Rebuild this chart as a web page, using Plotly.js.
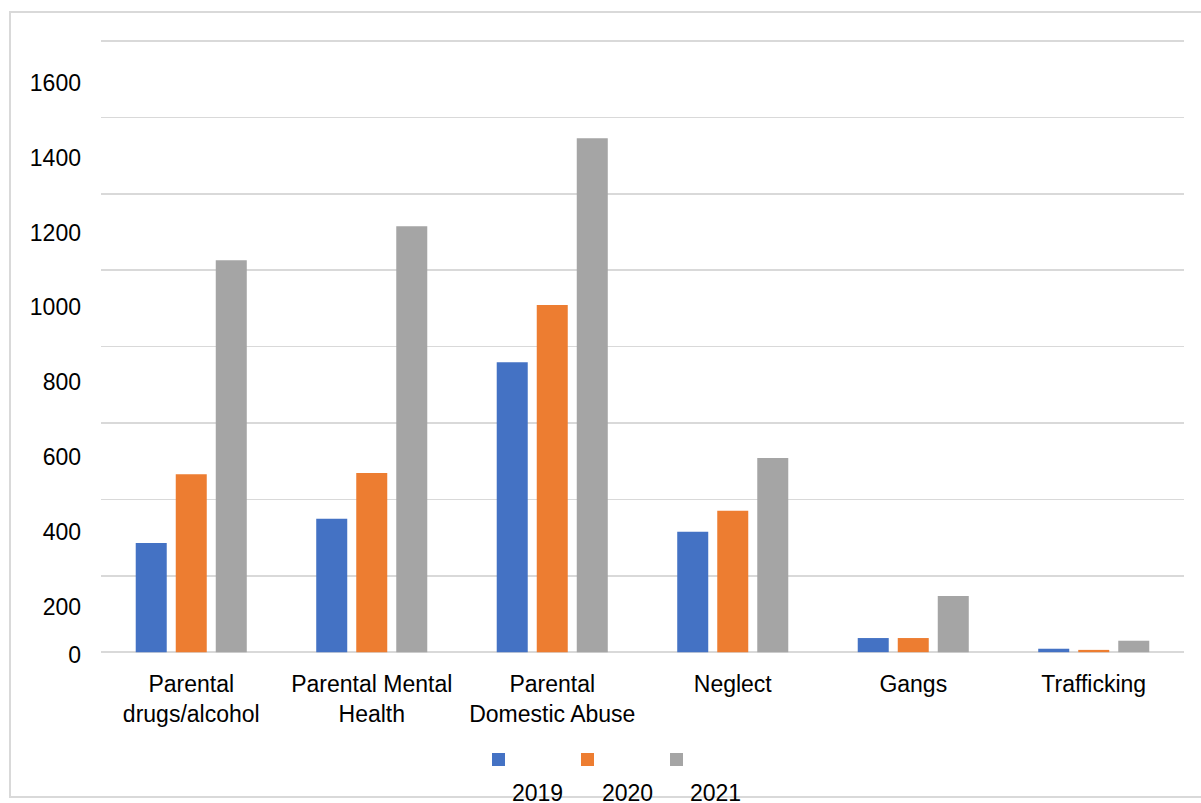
<!DOCTYPE html>
<html>
<head>
<meta charset="utf-8">
<script src="https://cdn.plot.ly/plotly-3.0.1.min.js"></script>
<style>
  html, body { margin: 0; padding: 0; background: #ffffff; overflow: hidden; }
  #frame { position: absolute; left: 9px; top: 11px; width: 1210px; height: 787px;
           box-sizing: border-box; border: 2px solid #d9d9d9; z-index: 0; }
  #chart { position: absolute; left: 0; top: 0; width: 1201px; height: 803px; z-index: 1; }
</style>
</head>
<body>
<div id="frame"></div>
<div id="chart"></div>
<script>
// ---- data ----
const categories = ["Parental<br>drugs/alcohol", "Parental Mental<br>Health", "Parental<br>Domestic Abuse", "Neglect", "Gangs", "Trafficking"];
const years = ["2019", "2020", "2021"];
const values2019 = [286, 349, 759, 315, 37, 9];
const values2020 = [466, 469, 909, 370, 37, 6];
const values2021 = [1026, 1115, 1345, 508, 147, 30];
const yTickLabels = ["0", "200", "400", "600", "800", "1000", "1200", "1400", "1600"];

// ---- styling / geometry ----
const colors = ["#4472C4", "#ED7D31", "#A5A5A5"];
const W = 1201, H = 803;
const M = { l: 101, r: 17, t: 39, b: 147 };
const yRange = [-10, 1605];
const plotW = W - M.l - M.r;
const plotH = H - M.t - M.b;
const plotBottom = H - M.b;
const k = plotH / (yRange[1] - yRange[0]);
// pixel rows where the (offset) tick labels sit in the reference
const yLabelRows = [655, 606.7, 531.7, 456.7, 382.1, 307.4, 232.7, 158, 83.3];
const yLabelVals = yLabelRows.map(p => yRange[0] + (plotBottom - p) / k);
const px2x = p => (p - M.l) / plotW;
const px2y = p => (plotBottom - p) / plotH;

const font = "Liberation Sans, Arial, sans-serif";
const series = [values2019, values2020, values2021];
const traces = series.map((vals, i) => ({
  type: "bar",
  x: categories,
  y: vals,
  name: years[i],
  marker: { color: colors[i] },
  showlegend: false,
  hoverinfo: "skip"
}));
// an overlaying axis that only carries the tick labels
traces.push({ type: "scatter", x: [categories[0]], y: [null], yaxis: "y2", showlegend: false, hoverinfo: "skip" });

// legend drawn as swatches + labels below them (as in the reference)
const swatchX = [492, 581, 670];
const labelX = [537, 627, 715];
const shapes = years.map((y, i) => ({
  type: "rect", xref: "paper", yref: "paper",
  x0: px2x(swatchX[i]), x1: px2x(swatchX[i] + 13),
  y0: px2y(766), y1: px2y(753),
  fillcolor: colors[i], line: { width: 0 }
}));
const annotations = years.map((y, i) => ({
  text: y, xref: "paper", yref: "paper",
  x: px2x(labelX[i]), y: px2y(793),
  xanchor: "center", yanchor: "middle", showarrow: false,
  font: { family: font, size: 23, color: "#000000" }
}));

const layout = {
  width: W, height: H,
  margin: M,
  paper_bgcolor: "rgba(0,0,0,0)",
  plot_bgcolor: "rgba(0,0,0,0)",
  barmode: "group",
  bargap: 0.335,
  bargroupgap: 0.225,
  font: { family: font, size: 23, color: "#000000" },
  xaxis: {
    type: "category",
    showgrid: false, zeroline: false, showline: false, ticks: "",
    tickfont: { family: font, size: 23, color: "#000000" },
    ticklabelstandoff: 12
  },
  yaxis: {
    range: yRange,
    tick0: 0, dtick: 200,
    showticklabels: false, ticks: "",
    showgrid: true, gridcolor: "#d9d9d9", gridwidth: 1.6,
    zeroline: false, showline: false
  },
  yaxis2: {
    overlaying: "y", side: "left",
    range: yRange,
    tickmode: "array", tickvals: yLabelVals, ticktext: yTickLabels,
    showgrid: false, zeroline: false, showline: false, ticks: "",
    tickfont: { family: font, size: 23, color: "#000000" },
    ticklabelstandoff: 19
  },
  shapes: shapes,
  annotations: annotations
};

Plotly.newPlot("chart", traces, layout, { displayModeBar: false, staticPlot: true });
</script>
</body>
</html>
